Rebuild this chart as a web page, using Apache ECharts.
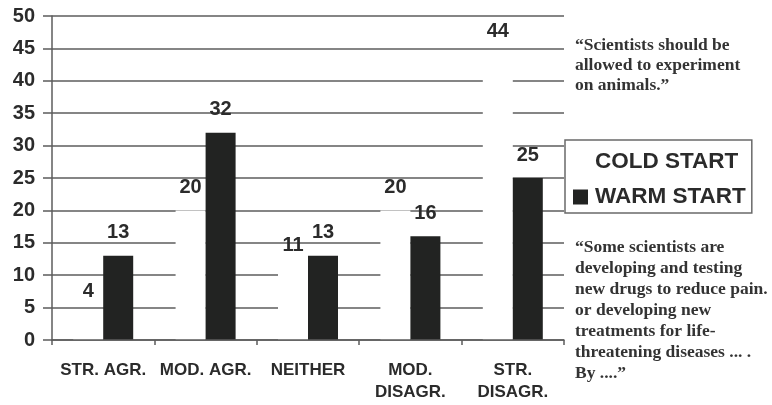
<!DOCTYPE html>
<html>
<head>
<meta charset="utf-8">
<script src="https://cdn.jsdelivr.net/npm/echarts@6/dist/echarts.min.js"></script>
<style>
  html, body { margin: 0; padding: 0; background: #fff; }
  #chart { width: 772px; height: 405px; }
</style>
</head>
<body>
<div id="chart"></div>
<script>
// Responses per answer category, two survey conditions
const categories = ['STR. AGR.', 'MOD. AGR.', 'NEITHER', 'MOD.\nDISAGR.', 'STR.\nDISAGR.'];
const coldStart = [4, 20, 11, 20, 44];
const warmStart = [13, 32, 13, 16, 25];
const yTicks = { min: 0, max: 50, interval: 5 };

const statementTop = '\u201cScientists should be\nallowed to experiment\non animals.\u201d';
const statementBottom = '\u201cSome scientists are\ndeveloping and testing\nnew drugs to reduce pain.\nor developing new\ntreatments for life-\nthreatening diseases ... .\nBy ....\u201d';

const ink = '#2b2b2b';
const lineGray = '#5c5c5c';
const barDark = '#222322';

const chart = echarts.init(document.getElementById('chart'), null, { renderer: 'canvas' });

const valueLabel = {
  show: true,
  position: 'top',
  distance: 13,
  color: ink,
  fontFamily: 'Liberation Sans, Arial, sans-serif',
  fontWeight: 'bold',
  fontSize: 20
};

chart.setOption({
  animation: false,
  backgroundColor: '#fff',
  grid: { left: 52, top: 16, right: 208, bottom: 65 },
  legend: {
    data: ['COLD START', 'WARM START'],
    orient: 'vertical',
    left: 565,
    top: 140,
    align: 'left',
    icon: 'rect',
    itemWidth: 15,
    itemHeight: 15,
    itemGap: 11,
    padding: [10, 6, 4, 8],
    borderColor: '#6a6a6a',
    borderWidth: 1.5,
    backgroundColor: '#fff',
    textStyle: {
      color: ink,
      fontFamily: 'Liberation Sans, Arial, sans-serif',
      fontWeight: 'bold',
      fontSize: 22.5,
      lineHeight: 24,
      padding: [0, 0, 0, 2]
    }
  },
  xAxis: {
    type: 'category',
    data: categories,
    z: 3,
    axisLine: { lineStyle: { color: lineGray, width: 1.5 } },
    axisTick: { show: true, length: 5, lineStyle: { color: lineGray, width: 1.5 } },
    axisLabel: {
      interval: 0,
      margin: 19,
      color: ink,
      fontFamily: 'Liberation Sans, Arial, sans-serif',
      fontWeight: 'bold',
      fontSize: 17,
      lineHeight: 22
    }
  },
  yAxis: {
    type: 'value',
    min: yTicks.min,
    max: yTicks.max,
    interval: yTicks.interval,
    axisLine: { show: true, lineStyle: { color: lineGray, width: 1.5 } },
    axisTick: { show: true, length: 9, lineStyle: { color: lineGray, width: 1.5 } },
    splitLine: { show: true, lineStyle: { color: lineGray, width: 1.5 } },
    axisLabel: {
      margin: 17,
      color: ink,
      fontFamily: 'Liberation Sans, Arial, sans-serif',
      fontWeight: 'bold',
      fontSize: 20
    }
  },
  series: [
    {
      name: 'COLD START',
      type: 'bar',
      data: coldStart,
      barWidth: 30,
      barGap: '0%',
      itemStyle: { color: '#ffffff' },
      label: valueLabel
    },
    {
      name: 'WARM START',
      type: 'bar',
      data: warmStart,
      barWidth: 30,
      barGap: '0%',
      itemStyle: { color: barDark },
      label: valueLabel
    }
  ],
  graphic: [
    {
      type: 'text',
      left: 575,
      top: 35,
      style: {
        text: statementTop,
        fill: '#333',
        font: 'bold 17.5px "Liberation Serif", "Times New Roman", serif',
        lineHeight: 20
      }
    },
    {
      type: 'text',
      left: 575,
      top: 237,
      style: {
        text: statementBottom,
        fill: '#333',
        font: 'bold 17.5px "Liberation Serif", "Times New Roman", serif',
        lineHeight: 21
      }
    }
  ]
});
</script>
</body>
</html>
